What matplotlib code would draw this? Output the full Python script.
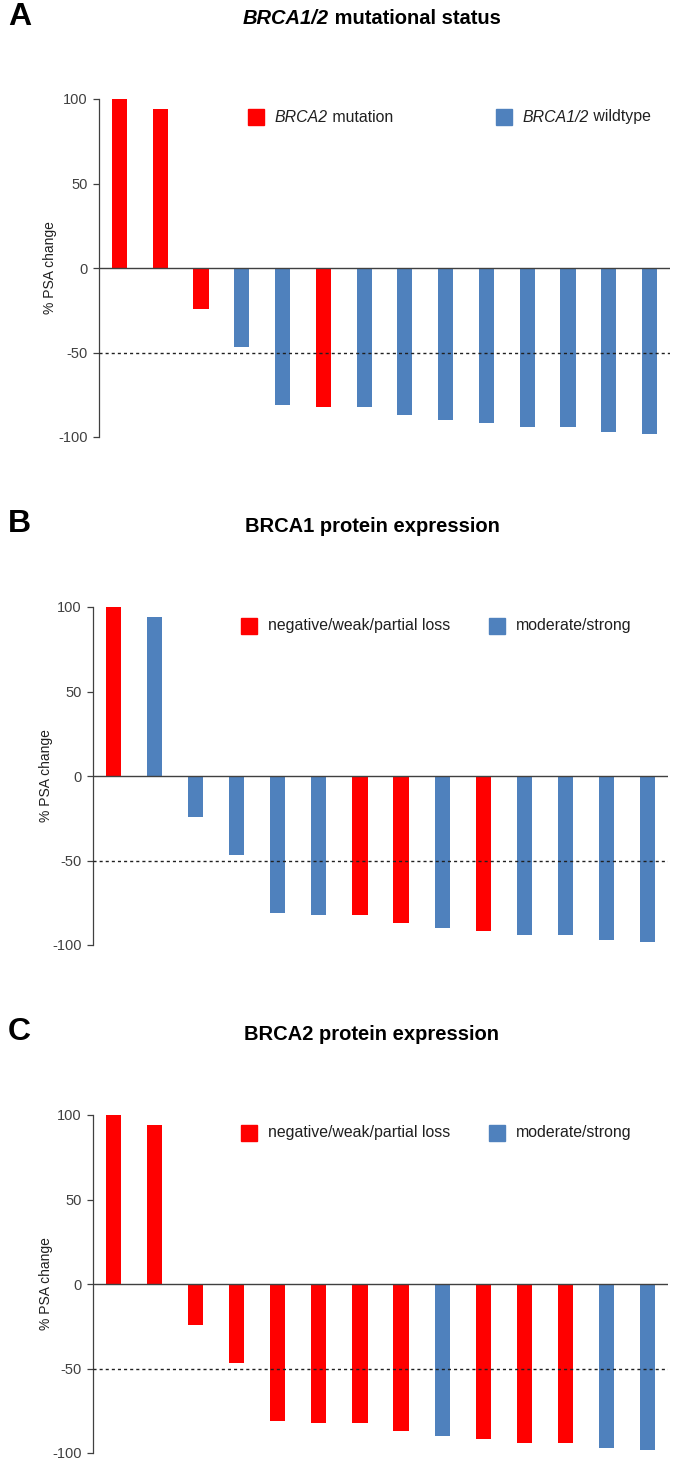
import numpy as np
import matplotlib.pyplot as plt
from matplotlib.patches import Rectangle

plt.rcParams['font.family'] = ['Liberation Sans', 'DejaVu Sans']
plt.rcParams['axes.unicode_minus'] = False

# % PSA change per patient (same patients, sorted, in every panel)
psa_change = [100, 94, -24, -47, -81, -82, -82, -87, -90, -92, -94, -94, -97, -98]

# 1 = red group, 0 = blue group
brca_mut = [1, 1, 1, 0, 0, 1, 0, 0, 0, 0, 0, 0, 0, 0]
brca1_prot = [1, 0, 0, 0, 0, 0, 1, 1, 0, 1, 0, 0, 0, 0]
brca2_prot = [1, 1, 1, 1, 1, 1, 1, 1, 0, 1, 1, 1, 0, 0]

panel_letters = ['A', 'B', 'C']
# text pieces: (text, italic)
panel_titles = [[('BRCA1/2', True), (' mutational status', False)],
                [('BRCA1 protein expression', False)],
                [('BRCA2 protein expression', False)]]
legend_red = [[('BRCA2', True), (' mutation', False)],
              [('negative/weak/partial loss', False)],
              [('negative/weak/partial loss', False)]]
legend_blue = [[('BRCA1/2', True), (' wildtype', False)],
               [('moderate/strong', False)],
               [('moderate/strong', False)]]
groups = [brca_mut, brca1_prot, brca2_prot]

RED = '#FF0000'
BLUE = '#4F81BD'
W, H = 675, 1462

fig = plt.figure(figsize=(W / 100, H / 100), dpi=100)
renderer = fig.canvas.get_renderer()


def rich_text(x_px, y_px, pieces, size, weight='normal', color='#202020', center=False):
    # draw text pieces one after the other, measuring each one
    texts = []
    for s, it in pieces:
        t = fig.text(0, 1 - y_px / H, s, fontsize=size, fontweight=weight,
                     fontstyle='italic' if it else 'normal', color=color,
                     ha='left', va='center')
        texts.append(t)
    widths = [t.get_window_extent(renderer).width for t in texts]
    x0 = x_px - sum(widths) / 2 if center else x_px
    for t, w in zip(texts, widths):
        t.set_x(x0 / W)
        x0 += w


# pixel layout of each panel: axis left, right, top(100), bottom(-100), title y, legend y
layout = [
    dict(l=99, r=670, t=99, b=437, ty=19, ly=117, rx=248, bx=496, lab=57),
    dict(l=93, r=668, t=607, b=945, ty=526, ly=626, rx=241, bx=489, lab=53),
    dict(l=93, r=668, t=1115, b=1453, ty=1034, ly=1133, rx=241, bx=489, lab=53),
]

x = np.arange(len(psa_change))
for k in range(3):
    p = layout[k]
    ax = fig.add_axes([p['l'] / W, 1 - p['b'] / H, (p['r'] - p['l']) / W, (p['b'] - p['t']) / H])
    cols = [RED if g == 1 else BLUE for g in groups[k]]
    ax.bar(x, psa_change, width=0.37, color=cols, edgecolor='none', zorder=2)
    ax.axhline(0, color='#404040', lw=1.0, zorder=3)
    ax.axhline(-50, color='#202020', lw=1.0, ls=(0, (2.2, 2.2)), zorder=4)
    ax.set_xlim(-0.5, 13.5)
    ax.set_ylim(-100, 100)
    ax.set_yticks([-100, -50, 0, 50, 100])
    ax.set_xticks([])
    for s in ['top', 'right', 'bottom']:
        ax.spines[s].set_visible(False)
    ax.spines['left'].set_color('#404040')
    ax.spines['left'].set_linewidth(0.9)
    ax.tick_params(axis='y', labelsize=10.5, colors='#404040', length=4, width=0.9, pad=4)
    ax.set_ylabel('% PSA change', fontsize=10, color='#202020')
    ax.yaxis.set_label_coords((p['lab'] - p['l']) / (p['r'] - p['l']), 0.5)

    # panel letter and title
    fig.text(8 / W, 1 - (p['ty'] - 2) / H, panel_letters[k],
             fontsize=23, fontweight='bold', ha='left', va='center')
    rich_text(372, p['ty'], panel_titles[k], 14.5, weight='bold', color='black', center=True)

    # legend
    sq = 16
    for sx, c, lab in [(p['rx'], RED, legend_red[k]), (p['bx'], BLUE, legend_blue[k])]:
        fig.patches.append(Rectangle((sx / W, 1 - (p['ly'] + sq / 2) / H), sq / W, sq / H,
                                     transform=fig.transFigure, color=c))
        rich_text(sx + sq + 11, p['ly'], lab, 11.4)

fig.savefig('out.png', dpi=100)
